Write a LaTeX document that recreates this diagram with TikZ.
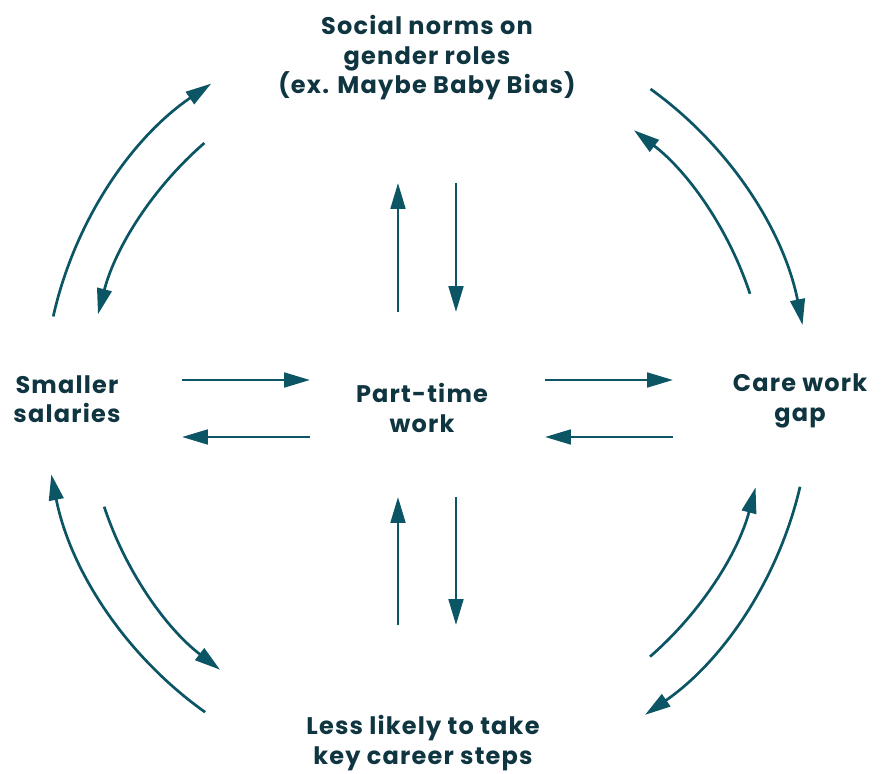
\documentclass[tikz,border=0pt]{standalone}
\usepackage{fontspec}
\setmainfont{Poppins}[LetterSpace=5]
\usetikzlibrary{arrows.meta}

\definecolor{inkteal}{HTML}{0F3541}
\definecolor{arrowteal}{HTML}{0B5565}

\begin{document}
\begin{tikzpicture}
      [x=0.03cm, y=0.03cm,
      label/.style={align=center, inner sep=0pt, text=inkteal,
        font=\fontsize{20.5}{25.2}\selectfont\bfseries},
      arr/.style={-{Triangle[length=22pt, width=12.5pt]}, line width=2.3pt,
        draw=arrowteal}]
      \useasboundingbox (-427,-374) rectangle (455,400);
      \coordinate (hub) at (0,0);

      % the five labels
      \node (norms) at (0,342) [label] {Social norms on\\gender roles\\(ex. Maybe Baby Bias)};
      \node (sal) at (-360,1) [label] {Smaller\\salaries};
      \node (part) at (-5,-8) [label] {Part-time\\work};
      \node (care) at (373,-1) [label] {Care work\\gap};
      \node (steps) at (-4,-343) [label] {Less likely to take\\key career steps};

      % straight pairs round the middle
      \draw[arr] ([shift={(-245,20)}]hub) -- ++(128,0);
      \draw[arr] ([shift={(-117,-37)}]hub) -- ++(-128,0);
      \draw[arr] ([shift={(118,20)}]hub) -- ++(128,0);
      \draw[arr] ([shift={(246,-37)}]hub) -- ++(-128,0);
      \draw[arr] ([shift={(-29,88)}]hub) -- ++(0,129);
      \draw[arr] ([shift={(29,217)}]hub) -- ++(0,-129);
      \draw[arr] ([shift={(-29,-225)}]hub) -- ++(0,128);
      \draw[arr] ([shift={(29,-97)}]hub) -- ++(0,-128);

      % curved pairs on the outer ring
      \draw[arr] (hub) ++(167.4:383) arc[start angle=167.4, end angle=124.3, radius=383];
      \draw[arr] (hub) ++(130.9:340) arc[start angle=130.9, end angle=165.4, radius=340];
      \draw[arr] (hub) ++(54.3:383) arc[start angle=54.3, end angle=11.3, radius=383];
      \draw[arr] (hub) ++(18.2:340) arc[start angle=18.2, end angle=52.5, radius=340];
      \draw[arr] (hub) ++(-13.1:383) arc[start angle=-13.1, end angle=-55.3, radius=383];
      \draw[arr] (hub) ++(-49:340) arc[start angle=-49, end angle=-14.9, radius=340];
      \draw[arr] (hub) ++(234.6:383) arc[start angle=234.6, end angle=191.2, radius=383];
      \draw[arr] (hub) ++(198.3:340) arc[start angle=198.3, end angle=232.5, radius=340];
    \end{tikzpicture}
\end{document}
